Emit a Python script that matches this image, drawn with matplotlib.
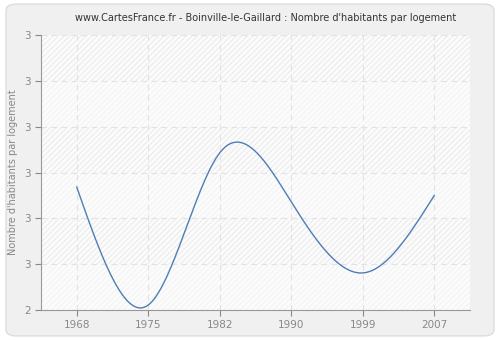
import numpy as np
import matplotlib
matplotlib.use("Agg")
import matplotlib.pyplot as plt
from matplotlib.patches import FancyBboxPatch

years = ["1968", "1975", "1982", "1990", "1999", "2007"]
values = [2.668, 2.411, 2.743, 2.636, 2.481, 2.650]
yticks = [2.4, 2.5, 2.6, 2.7, 2.8, 2.9, 3.0]
ytick_labels = ["2", "3", "3", "3", "3", "3", "3"]

def natural_spline(x, y, xs):
    x = np.asarray(x, float); y = np.asarray(y, float)
    n = len(x)
    h = np.diff(x)
    A = np.zeros((n, n)); b = np.zeros(n)
    A[0, 0] = 1; A[-1, -1] = 1
    for i in range(1, n - 1):
        A[i, i - 1] = h[i - 1]
        A[i, i] = 2 * (h[i - 1] + h[i])
        A[i, i + 1] = h[i]
        b[i] = 3 * ((y[i + 1] - y[i]) / h[i] - (y[i] - y[i - 1]) / h[i - 1])
    c = np.linalg.solve(A, b)
    out = np.empty_like(xs)
    for k, xv in enumerate(xs):
        i = min(max(np.searchsorted(x, xv) - 1, 0), n - 2)
        dx = xv - x[i]
        bb = (y[i + 1] - y[i]) / h[i] - h[i] * (2 * c[i] + c[i + 1]) / 3
        d = (c[i + 1] - c[i]) / (3 * h[i])
        out[k] = y[i] + bb * dx + c[i] * dx ** 2 + d * dx ** 3
    return out

fig = plt.figure(figsize=(5, 3.4), dpi=100)
fig.patch.set_facecolor("white")
fig.patches.append(FancyBboxPatch((0.012, 0.012), 0.976, 0.976, boxstyle="round,pad=0,rounding_size=0.02",
                                  transform=fig.transFigure, facecolor="#f0f0f0", edgecolor="#dddddd",
                                  linewidth=1, zorder=-10))

ax = fig.add_axes([0.082, 0.088, 0.858, 0.809])
ax.set_facecolor("white")
xpos = np.arange(len(years))
ax.set_xlim(-0.5, len(years) - 0.5)
ax.set_ylim(yticks[0], yticks[-1])

for i in range(len(yticks) - 1):
    col = "#eeeeee" if i % 2 == 1 else "#f5f5f5"
    ax.axhspan(yticks[i], yticks[i + 1], facecolor="#fcfcfc", edgecolor=col, hatch="//////", linewidth=0, zorder=0)

ax.grid(True, color="#e2e2e2", linestyle=(0, (5, 4)), linewidth=0.8, zorder=1)
ax.set_axisbelow(True)

xs = np.linspace(0, len(years) - 1, 400)
ax.plot(xs, natural_spline(xpos, values, xs), color="#4f7db5", linewidth=1.0, zorder=3)

ax.set_xticks(xpos)
ax.set_xticklabels(years)
ax.set_yticks(yticks)
ax.set_yticklabels(ytick_labels)
ax.tick_params(colors="#888888", labelsize=7.5, length=4, width=0.8)
for s in ["top", "right"]:
    ax.spines[s].set_visible(False)
for s in ["left", "bottom"]:
    ax.spines[s].set_color("#999999")
ax.set_ylabel("Nombre d'habitants par logement", color="#888888", fontsize=7)
fig.text(0.532, 0.947, "www.CartesFrance.fr - Boinville-le-Gaillard : Nombre d'habitants par logement",
         fontsize=7, color="#333333", ha="center", va="center")

fig.savefig("out.png", dpi=100)
